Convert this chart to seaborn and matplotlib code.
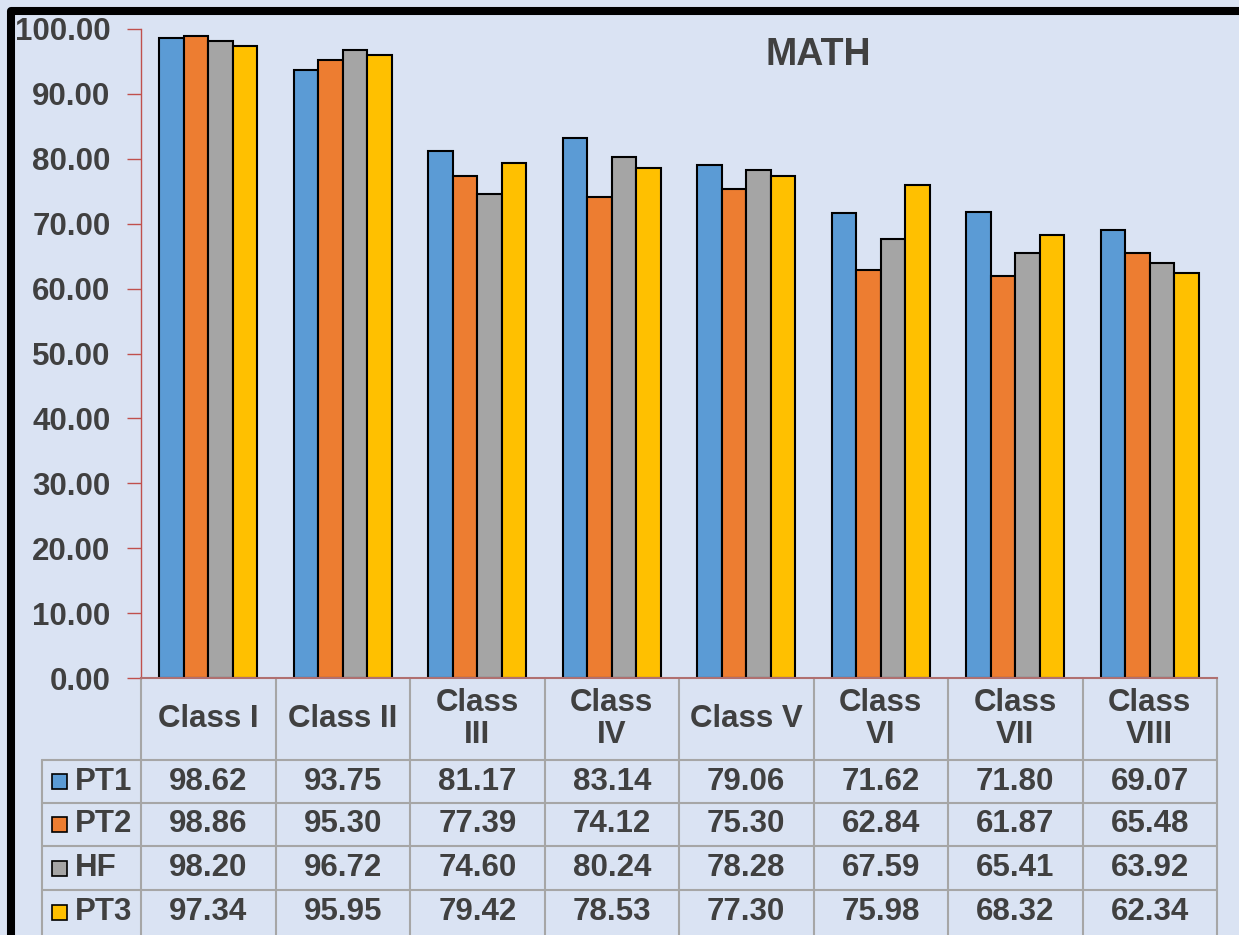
import numpy as np
import pandas as pd
import seaborn as sns
import matplotlib.pyplot as plt
from matplotlib.lines import Line2D
from matplotlib.patches import Rectangle

classes = ['Class I', 'Class II', 'Class III', 'Class IV', 'Class V', 'Class VI', 'Class VII', 'Class VIII']
class_labels = ['Class I', 'Class II', 'Class\nIII', 'Class\nIV', 'Class V', 'Class\nVI', 'Class\nVII', 'Class\nVIII']
tests = ['PT1', 'PT2', 'HF', 'PT3']
pt1 = [98.62, 93.75, 81.17, 83.14, 79.06, 71.62, 71.80, 69.07]
pt2 = [98.86, 95.30, 77.39, 74.12, 75.30, 62.84, 61.87, 65.48]
hf = [98.20, 96.72, 74.60, 80.24, 78.28, 67.59, 65.41, 63.92]
pt3 = [97.34, 95.95, 79.42, 78.53, 77.30, 75.98, 68.32, 62.34]
colors = ['#5B9BD5', '#ED7D31', '#A5A5A5', '#FFC000']

series = [pt1, pt2, hf, pt3]
df = pd.DataFrame({
    'cls': classes * 4,
    'test': [t for t in tests for _ in classes],
    'score': [v for s in series for v in s],
})

bg = '#DAE3F3'
txt = '#404040'
grid = '#A6A6A6'
W, H = 1239, 935

sns.set_theme(style='white')
plt.rcParams['font.family'] = ['Liberation Sans', 'DejaVu Sans']
plt.rcParams['font.weight'] = 'bold'

fig = plt.figure(figsize=(12.39, 9.35), dpi=100, facecolor=bg)
x0, x1, y0, y1 = 141, 1217, 678, 29
ax = fig.add_axes([x0 / W, (H - y0) / H, (x1 - x0) / W, (y0 - y1) / H])
ax.set_facecolor(bg)

sns.barplot(data=df, x='cls', y='score', hue='test', order=classes, hue_order=tests,
            palette=colors, saturation=1, width=0.73, edgecolor='black', linewidth=1.5,
            legend=False, ax=ax)

ax.set_xlim(-0.5, 7.5)
ax.set_ylim(0, 100)
ax.set_yticks(np.arange(0, 101, 10))
ax.set_yticklabels([f'{v:.2f}' for v in np.arange(0, 101, 10)], fontsize=22.5,
                   fontweight='bold', color=txt)
ax.tick_params(axis='y', length=10, width=1, color='#C0504D', pad=12, left=True)
ax.tick_params(axis='x', bottom=False, labelbottom=False)
ax.set_xlabel('')
ax.set_ylabel('')
for s in ['top', 'right']:
    ax.spines[s].set_visible(False)
ax.spines['left'].set_color('#C0504D')
ax.spines['left'].set_linewidth(1)
ax.spines['bottom'].set_color('#B07070')
ax.spines['bottom'].set_linewidth(1.5)

ax.text(0.629, 0.96, 'MATH', transform=ax.transAxes, ha='center', va='center',
        fontsize=27, fontweight='bold', color=txt)

# data table under the chart
def fy(py):
    return (y0 - py) / (y0 - y1)

def fx(px):
    return (px - x0) / (x1 - x0)

tr = ax.transAxes
xt = ax.get_xaxis_transform()
for yy in [760, 803, 846, 890]:
    ax.plot([fx(42), 1], [fy(yy), fy(yy)], color=grid, lw=1.5, transform=tr, clip_on=False)
ax.plot([fx(42), fx(42)], [fy(760), fy(940)], color=grid, lw=1.5, transform=tr, clip_on=False)
for k in range(9):
    ax.plot([k - 0.5, k - 0.5], [fy(678), fy(940)], color=grid, lw=1.5, transform=xt, clip_on=False)

for i, lab in enumerate(class_labels):
    ax.text(i, fy(719), lab, transform=xt, ha='center', va='center', fontsize=22.5,
            fontweight='bold', color=txt, linespacing=1.1)

row_mid = [781.5, 824.5, 868, 912]
for r, (name, vals, c) in enumerate(zip(tests, series, colors)):
    yy = fy(row_mid[r])
    ax.add_patch(Rectangle((fx(52), yy - 7.5 / (y0 - y1)), 15 / (x1 - x0), 15 / (y0 - y1),
                           transform=tr, facecolor=c, edgecolor='black', lw=1.2, clip_on=False))
    ax.text(fx(75), yy, name, transform=tr, ha='left', va='center', fontsize=22.5,
            fontweight='bold', color=txt)
    for i, v in enumerate(vals):
        ax.text(i, yy, f'{v:.2f}', transform=xt, ha='center', va='center', fontsize=22.5,
                fontweight='bold', color=txt)

# black frame on top and left
fig.add_artist(Line2D([10.5 / W, 10.5 / W, 1], [0, 1 - 11 / H, 1 - 11 / H],
                      color='black', lw=5.8, solid_joinstyle='round', transform=fig.transFigure))

fig.savefig('out.png', dpi=100, facecolor=bg)
